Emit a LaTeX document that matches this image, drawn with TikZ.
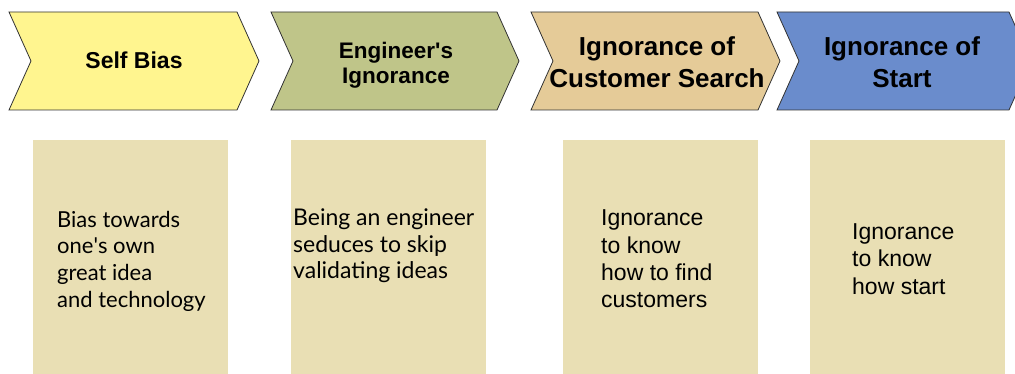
\documentclass[tikz,border=0pt]{standalone}
\usepackage{fontspec}
\setmainfont{Liberation Sans}
\newfontfamily\latofont{Lato}

\definecolor{selfcol}{RGB}{255,245,143}
\definecolor{engcol}{RGB}{191,197,137}
\definecolor{custcol}{RGB}{229,203,152}
\definecolor{startcol}{RGB}{106,140,204}
\definecolor{notecol}{RGB}{233,223,180}
\definecolor{chevline}{RGB}{50,50,50}

\tikzset{
  chevron/.style = {draw = chevline, line width = 0.8pt, line join = miter},
  notebox/.style = {fill = notecol, anchor = north west, inner sep = 0pt,
                    minimum width = 195pt, minimum height = 234pt},
  stagetext/.style = {font = \bfseries\fontsize{22.5}{25}\selectfont, align = center, inner sep = 0pt},
  bigstage/.style = {font = \bfseries\fontsize{26}{31.7}\selectfont, align = center, inner sep = 0pt},
  notetext/.style = {anchor = west, align = left, inner sep = 0pt},
}

\begin{document}
\begin{tikzpicture}[x = 1pt, y = -1pt]
  \useasboundingbox (0, 0) rectangle (1015, 374);
  \clip (0, 0) rectangle (1015, 374);
  \def\chevtop{12}
  \def\chevbot{110}
  \def\chevmid{61}
  \def\chevdepth{22}
  % the four stages
  \foreach \xa/\xb/\col in {9/237/selfcol, 271/497/engcol, 531/758/custcol, 777/1009/startcol}
    \draw[chevron, fill = \col] (\xa, \chevtop)--(\xb, \chevtop)--({\xb + \chevdepth}, \chevmid)
      --(\xb, \chevbot)--(\xa, \chevbot)--({\xa + \chevdepth}, \chevmid)--cycle;
  \node[stagetext, font = \bfseries\fontsize{23}{25}\selectfont] (selfbias) at (134, 60) {Self Bias};
  \node[stagetext] (engignorance) at (396, 65) {Engineer\textquotesingle s\\Ignorance};
  \node[bigstage] (custsearch) at (657, 62) {Ignorance of\\Customer Search};
  \node[bigstage] (startign) at (902, 62) {Ignorance of\\Start};
  % notes below each stage
  \foreach \xa/\name in {33/selfnote, 291/engnote, 563/custnote, 810/startnote}
    \node[notebox] (\name) at (\xa, 140) {};
  \node[notetext, font = \latofont\fontsize{22}{26.7}\selectfont] (selftext) at (57, 261)
    {Bias towards\\one\textquotesingle s own\\great idea\\and technology};
  \node[notetext, font = \latofont\fontsize{23}{26.7}\selectfont] (engtext) at (293, 246)
    {Being an engineer\\seduces to skip\\validating ideas};
  \node[notetext, font = \fontsize{23}{27.4}\selectfont] (custtext) at (601, 259)
    {Ignorance\\to know\\how to find\\customers};
  \node[notetext, font = \fontsize{23}{27.4}\selectfont] (starttext) at (852, 259)
    {Ignorance\\to know\\how start};
\end{tikzpicture}
\end{document}
